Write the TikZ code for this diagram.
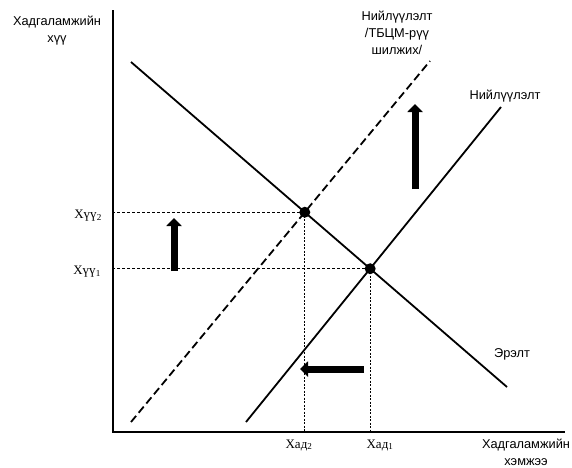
\documentclass[tikz,border=0pt]{standalone}
\usepackage{fontspec}
\setmainfont{Liberation Sans}
\newfontfamily\serifcyr{Liberation Serif}
\usetikzlibrary{arrows.meta}
\tikzset{
  curve/.style={line width=1.8pt},
  guide/.style={line width=0.8pt,dash pattern=on 3pt off 2pt},
  dotguide/.style={line width=0.8pt,dash pattern=on 2pt off 1.5pt},
  fat/.style={line width=7pt,-{Triangle[width=15pt,length=8pt]}},
  lbl/.style={font=\fontsize{12.8}{17}\selectfont,align=center,inner sep=0pt},
  subl/.style={font=\serifcyr\fontsize{13}{15}\selectfont,inner sep=0pt}
}
\begin{document}
\begin{tikzpicture}[x=1pt,y=-1pt]
\useasboundingbox (0,0) rectangle (572,467);
% axes
\coordinate (ytop) at (113,10);
\coordinate (O) at (113,432);
\coordinate (xend) at (565,432);
\draw[line width=2pt] (ytop) -- (O) -- (xend);
% demand, supply, shifted supply
\coordinate (d1) at (131,62);
\coordinate (d2) at (507,387);
\coordinate (s1) at (246,422);
\coordinate (s2) at (501,107);
\coordinate (t1) at (131,422);
\coordinate (t2) at (430,61);
\draw[curve] (d1) -- (d2);
\draw[curve] (s1) -- (s2);
\draw[curve,dash pattern=on 8pt off 4pt] (t1) -- (t2);
\coordinate (E1) at (intersection of d1--d2 and s1--s2);
\coordinate (E2) at (intersection of d1--d2 and t1--t2);
% guides
\draw[guide] (E2) -- (E2 -| O);
\draw[guide] (E1) -- (E1 -| O);
\draw[dotguide] (E2) -- (E2 |- O);
\draw[dotguide] (E1) -- (E1 |- O);
\foreach \p in {E1,E2}
  \fill (\p) circle (5.5pt);
% shift arrows
\coordinate (a1) at (174,271);
\coordinate (a2) at (174,218);
\coordinate (b1) at (415,189);
\coordinate (b2) at (415,104);
\coordinate (c1) at (364,369);
\coordinate (c2) at (300,369);
\draw[fat] (a1) -- (a2);
\draw[fat] (b1) -- (b2);
\draw[fat] (c1) -- (c2);
% labels
\node[lbl] (ylab) at (57,31) {Хадгаламжийн\\хүү};
\node[lbl] (xlab) at (526,452) {Хадгаламжийн\\хэмжээ};
\node[lbl] (tlab) at (397,33) {Нийлүүлэлт\\/ТБЦМ-рүү\\шилжих/};
\node[lbl] (slab) at (505,96) {Нийлүүлэлт};
\node[lbl] (dlab) at (512,354) {Эрэлт};
\node[subl,anchor=east] (h2) at (102,216) {Хүү\textsubscript{2}};
\node[subl,anchor=east] (h1) at (101,272) {Хүү\textsubscript{1}};
\node[subl] (q2) at (299,445) {Хад\textsubscript{2}};
\node[subl] (q1) at (380,445) {Хад\textsubscript{1}};
\end{tikzpicture}
\end{document}
